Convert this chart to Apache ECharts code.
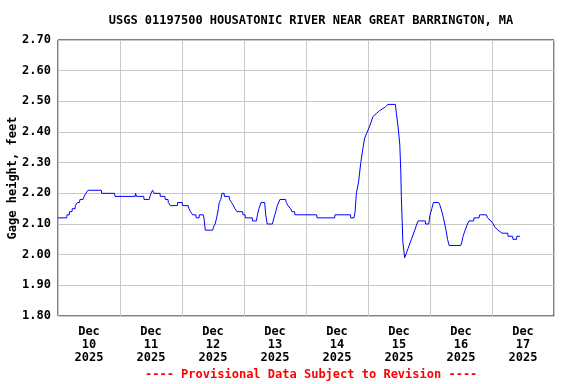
<!DOCTYPE html>
<html>
<head>
<meta charset="utf-8">
<script src="https://cdn.jsdelivr.net/npm/echarts@6/dist/echarts.min.js"></script>
<style>html,body{margin:0;padding:0;background:#fff;}#c{width:576px;height:384px;}</style>
</head>
<body>
<div id="c"></div>
<script>
// Hours since 2025-12-10 00:00
const hours = [0,3.37,3.5,4.37,4.45,5.42,5.5,6.6,6.7,7.35,7.5,8.3,8.5,9.7,10.1,10.6,10.8,11.3,11.6,16.8,16.9,21.9,22.1,29.9,30.0,30.3,30.4,33.2,33.3,35.3,35.6,36.0,36.6,37.2,39.5,39.6,41.4,41.5,42.6,42.7,43.4,43.5,46.2,46.3,48.1,48.2,50.4,50.7,51.3,51.9,52.1,53.4,53.5,54.6,54.7,56.2,56.5,57.0,59.9,60.2,60.8,61.4,62.1,62.4,63.0,63.5,64.3,64.4,66.3,66.4,67.2,67.9,68.5,69.3,71.5,71.6,72.4,72.5,75.2,75.3,76.8,77.2,77.8,78.6,80.0,80.4,81.0,83.0,83.6,84.3,84.9,85.9,88.1,88.4,89.0,90.0,90.6,91.6,91.7,100.1,100.3,107.1,107.2,113.2,113.3,114.6,115.0,115.5,116.4,117.2,118.1,118.7,119.7,120.7,121.9,123.2,124.5,126.5,127.7,130.6,131.0,131.6,132.3,132.7,132.9,133.5,134.2,135.5,136.8,138.1,138.9,139.4,142.2,142.3,143.5,144.0,144.7,145.3,147.4,147.9,148.6,149.2,149.7,150.2,150.8,151.4,155.9,156.3,156.8,157.6,158.5,159.1,160.9,161.0,163.0,163.2,165.8,166.3,167.6,168.5,169.1,170.3,171.9,174.1,174.2,176.0,176.1,177.5,177.6,178.8];
const gage = [2.12,2.12,2.13,2.13,2.14,2.14,2.15,2.15,2.16,2.16,2.17,2.17,2.18,2.18,2.19,2.19,2.20,2.20,2.21,2.21,2.20,2.20,2.19,2.19,2.20,2.20,2.19,2.19,2.18,2.18,2.19,2.20,2.21,2.20,2.20,2.19,2.19,2.18,2.18,2.17,2.17,2.16,2.16,2.17,2.17,2.16,2.16,2.15,2.14,2.14,2.13,2.13,2.12,2.12,2.13,2.13,2.12,2.08,2.08,2.09,2.10,2.12,2.15,2.17,2.18,2.20,2.20,2.19,2.19,2.18,2.17,2.16,2.15,2.14,2.14,2.13,2.13,2.12,2.12,2.11,2.11,2.13,2.15,2.17,2.17,2.13,2.10,2.10,2.12,2.14,2.16,2.18,2.18,2.17,2.16,2.15,2.14,2.14,2.13,2.13,2.12,2.12,2.13,2.13,2.12,2.12,2.14,2.20,2.24,2.30,2.35,2.38,2.40,2.42,2.45,2.46,2.47,2.48,2.49,2.49,2.46,2.42,2.36,2.27,2.19,2.04,1.99,2.02,2.05,2.08,2.10,2.11,2.11,2.10,2.10,2.13,2.15,2.17,2.17,2.16,2.14,2.12,2.10,2.08,2.05,2.03,2.03,2.04,2.06,2.08,2.10,2.11,2.11,2.12,2.12,2.13,2.13,2.12,2.11,2.10,2.09,2.08,2.07,2.07,2.06,2.06,2.05,2.05,2.06,2.06];
const dayLabels = ['Dec\n10\n2025','Dec\n11\n2025','Dec\n12\n2025','Dec\n13\n2025','Dec\n14\n2025','Dec\n15\n2025','Dec\n16\n2025','Dec\n17\n2025'];
const titleText = 'USGS 01197500 HOUSATONIC RIVER NEAR GREAT BARRINGTON, MA';
const yName = 'Gage height, feet';
const footText = '---- Provisional Data Subject to Revision ----';

const FONT = '"DejaVu Sans Mono", "Liberation Mono", monospace';
const chart = echarts.init(document.getElementById('c'), null, {renderer:'canvas'});
chart.setOption({
  animation: false,
  backgroundColor: '#fff',
  title: {
    text: titleText, left: 306, textAlign: 'center', top: 10,
    textStyle: {fontFamily: FONT, fontWeight: 'bold', fontSize: 12, color: '#000'}
  },
  graphic: [{
    type: 'text', left: 145, top: 369,
    style: {text: footText, fill: '#ff0000', font: 'bold 12px ' + FONT}
  }],
  grid: {left: 58, right: 22, top: 40, bottom: 68, show: true, borderColor: '#000', borderWidth: 1,
         outerBoundsMode: 'none', containLabel: false},
  xAxis: [{
    type: 'value', min: 0, max: 192, interval: 24,
    axisLine: {show: false}, axisTick: {show: false}, axisLabel: {show: false},
    splitLine: {show: true, lineStyle: {color: '#c8c8c8', width: 1}}
  }, {
    type: 'category', data: dayLabels, boundaryGap: true, position: 'bottom',
    axisLine: {show: false}, axisTick: {show: false}, splitLine: {show: false},
    axisLabel: {fontFamily: FONT, fontWeight: 'bold', fontSize: 12, color: '#000', lineHeight: 13, margin: 9, interval: 0}
  }],
  yAxis: {
    type: 'value', min: 1.8, max: 2.7, interval: 0.1,
    name: yName, nameLocation: 'middle', nameGap: 39, nameRotate: 90, nameMoveOverlap: false,
    nameTextStyle: {fontFamily: FONT, fontWeight: 'bold', fontSize: 12, color: '#000'},
    axisLine: {show: false}, axisTick: {show: false},
    axisLabel: {fontFamily: FONT, fontWeight: 'bold', fontSize: 12, color: '#000', margin: 7, formatter: v => v.toFixed(2)},
    splitLine: {show: true, lineStyle: {color: '#c8c8c8', width: 1}}
  },
  series: [{
    type: 'line', xAxisIndex: 0, showSymbol: false, symbol: 'none',
    data: hours.map((h, i) => [h, gage[i]]),
    lineStyle: {color: '#0000ff', width: 1}
  }]
});
</script>
</body>
</html>
